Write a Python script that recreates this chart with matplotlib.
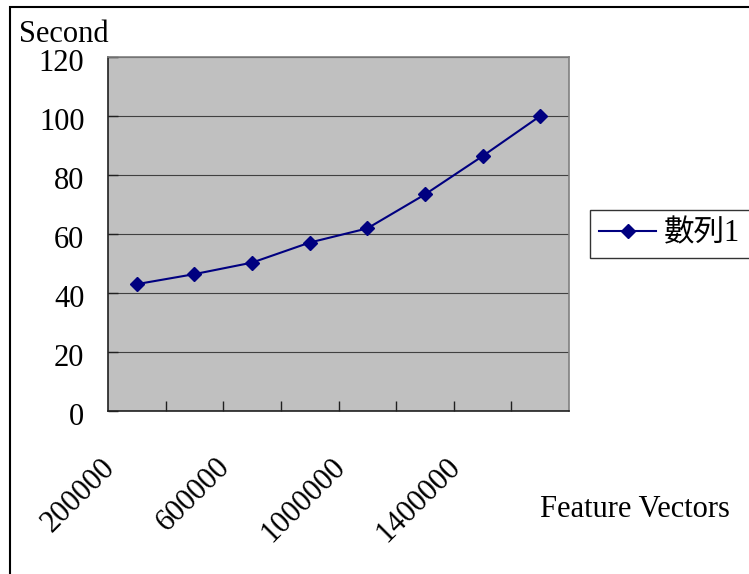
import matplotlib.pyplot as plt
from matplotlib.patches import Rectangle
from matplotlib.transforms import offset_copy, ScaledTranslation

# feature vector counts and run time in seconds
vectors = [200000, 400000, 600000, 800000, 1000000, 1200000, 1400000, 1600000]
seconds = [43.0, 46.4, 50.3, 57.1, 61.9, 73.4, 86.4, 100.0]
shown_labels = ["200000", "", "600000", "", "1000000", "", "1400000", ""]
series_name = "數列1"

W, H = 749, 574
fig = plt.figure(figsize=(W / 100, H / 100), dpi=100)
serif = ["Liberation Serif", "Noto Sans CJK TC"]
plt.rcParams["font.family"] = serif

ax = fig.add_axes([108 / W, 1 - 411 / H, (569 - 108) / W, (411 - 57) / H])
ax.set_facecolor("#c0c0c0")

pos = list(range(len(vectors)))
ax.plot(pos, seconds, color="#000080", lw=1.5, marker="D", ms=7.5,
        label=series_name, zorder=3)

ax.set_xlim(-0.5, len(vectors) - 0.5)
ax.set_ylim(0, 120)
ax.set_yticks(range(0, 121, 20))
ax.grid(axis="y", color="#404040", lw=0.8)
ax.set_axisbelow(True)

# category ticks sit between the points
ax.set_xticks([p + 0.5 for p in pos[:-1]])
ax.set_xticklabels([])
ax.tick_params(axis="x", direction="in", length=7, width=1, color="#202020")
ax.tick_params(axis="y", direction="in", length=7, width=1, color="#202020",
               labelsize=22, pad=17)
# nudge the value labels a little below their gridlines
shift = ScaledTranslation(0, -3 / 100, fig.dpi_scale_trans)
for tick in ax.yaxis.get_major_ticks():
    tick.label1.set_transform(tick.label1.get_transform() + shift)

for side in ("top", "right"):
    ax.spines[side].set_color("#808080")
    ax.spines[side].set_linewidth(1.2)
for side in ("left", "bottom"):
    ax.spines[side].set_color("#202020")
    ax.spines[side].set_linewidth(1.2)

label_tr = offset_copy(ax.get_xaxis_transform(), fig, x=-26, y=-52, units="dots")
for p, lab in zip(pos, shown_labels):
    if lab:
        ax.text(p, 0, lab, transform=label_tr, rotation=45, ha="right",
                va="center", rotation_mode="anchor", fontsize=22)

fig.text(19 / W, 1 - 42 / H, "Second", fontsize=22, va="baseline")
fig.text(540 / W, 1 - 517 / H, "Feature Vectors", fontsize=22, va="baseline")

leg = fig.legend(loc="center left", bbox_to_anchor=(590 / W, 1 - 234 / H),
                 fontsize=22, frameon=True, fancybox=False, handlelength=1.87,
                 handletextpad=0.26, borderpad=0.3, borderaxespad=0)
leg.get_frame().set_edgecolor("black")
leg.get_frame().set_linewidth(1)
for t in leg.get_texts():
    t.set_family(serif)

# outer chart frame, cut off at the right and bottom
fig.add_artist(Rectangle((10 / W, -0.1), 1.0, 1.1 - 7 / H, transform=fig.transFigure,
                         fill=False, edgecolor="black", lw=1.5))

fig.savefig("out.png", dpi=100)
